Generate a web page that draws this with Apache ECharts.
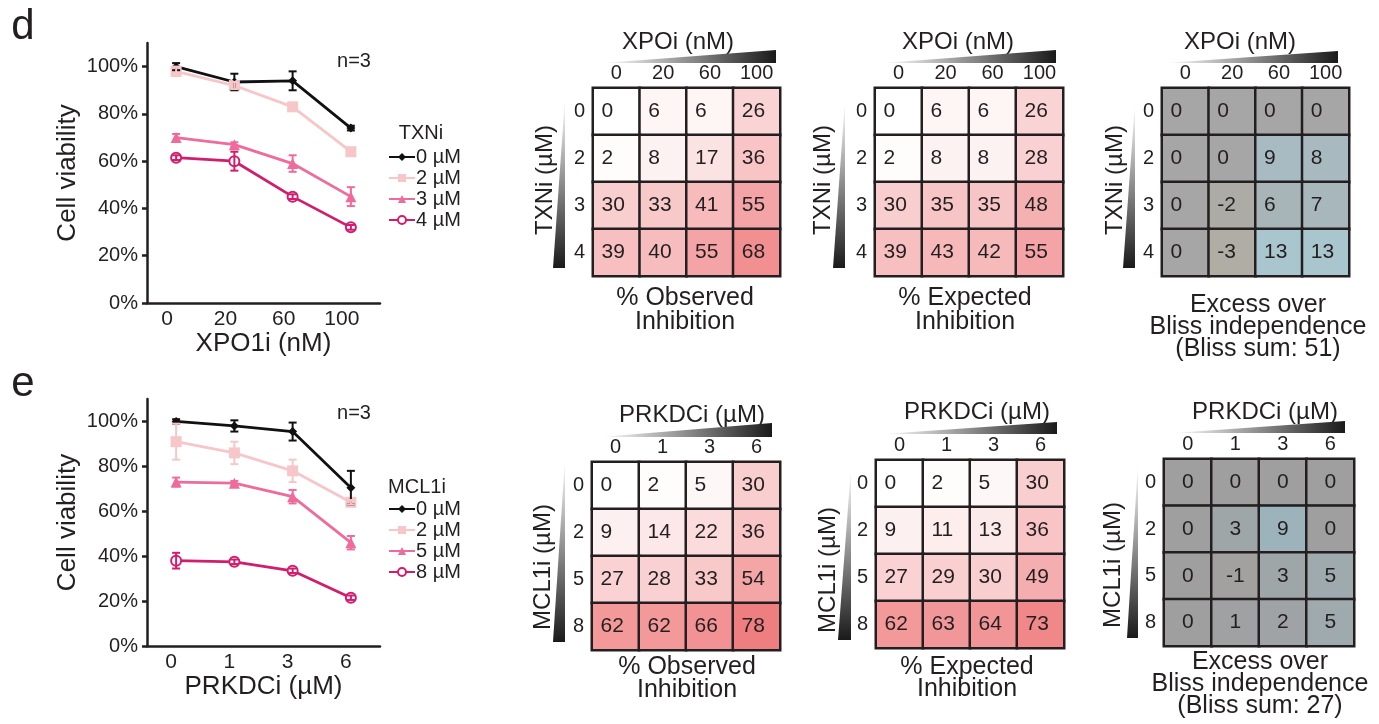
<!DOCTYPE html>
<html>
<head>
<meta charset="utf-8">
<script src="https://cdn.jsdelivr.net/npm/echarts@6/dist/echarts.min.js"></script>
<style>
  html, body { margin: 0; padding: 0; background: #fff; }
  #chart { width: 1379px; height: 724px; }
</style>
</head>
<body>
<div id="chart"></div>
<script>
// panel d: viability vs XPO1i dose, one line per TXNi dose
const xpoDoses = ['0', '20', '60', '100'];
const txnRows = ['0', '2', '3', '4'];
const txn0 = [100, 93.5, 94, 74];
const txn0Err = [1.5, 3.5, 4, 1];
const txn2 = [98, 92, 83, 64];
const txn2Err = [2, 1.5, 1, 1];
const txn3 = [70, 67, 59, 45];
const txn3Err = [1.5, 1, 3.5, 4];
const txn4 = [61.5, 60, 45, 32];
const txn4Err = [1, 4, 1, 1];

// panel e: viability vs PRKDCi dose, one line per MCL1i dose
const prkDoses = ['0', '1', '3', '6'];
const mclRows = ['0', '2', '5', '8'];
const mcl0 = [100, 98, 95.5, 70.5];
const mcl0Err = [1, 2.5, 4, 7.5];
const mcl2 = [91, 86, 78, 64];
const mcl2Err = [8, 5, 5, 1];
const mcl5 = [73, 72.5, 66.5, 46];
const mcl5Err = [2, 1, 3, 3];
const mcl8 = [38, 37.5, 33.5, 21.5];
const mcl8Err = [3.5, 1, 1, 1];

const yTicks = [0, 20, 40, 60, 80, 100];

// heatmaps (rows = TXNi / MCL1i dose, cols = XPOi / PRKDCi dose)
const obsD = [[0, 6, 6, 26], [2, 8, 17, 36], [30, 33, 41, 55], [39, 40, 55, 68]];
const expD = [[0, 6, 6, 26], [2, 8, 8, 28], [30, 35, 35, 48], [39, 43, 42, 55]];
const blissD = [[0, 0, 0, 0], [0, 0, 9, 8], [0, -2, 6, 7], [0, -3, 13, 13]];
const obsE = [[0, 2, 5, 30], [9, 14, 22, 36], [27, 28, 33, 54], [62, 62, 66, 78]];
const expE = [[0, 2, 5, 30], [9, 11, 13, 36], [27, 29, 30, 49], [62, 63, 64, 73]];
const blissE = [[0, 0, 0, 0], [0, 3, 9, 0], [0, -1, 3, 5], [0, 1, 2, 5]];

const FONT = "'Liberation Sans', Arial, sans-serif";
const INK = '#231f20';
const C_BLACK = '#111111';
const C_LIGHT = '#f7c6c9';
const C_PINK = '#ef6b9b';
const C_MAG = '#d31c6e';

let myChart = echarts.init(document.getElementById('chart'));

function lineSeries(name, data, color, symbol, size, axis) {
  return {
    name: name, type: 'line', xAxisIndex: axis, yAxisIndex: axis,
    data: data, symbol: symbol, symbolSize: size, z: 3,
    lineStyle: { color: color, width: 2.8 },
    itemStyle: { color: color, borderColor: color, borderWidth: symbol === 'emptyCircle' ? 2.5 : 0 },
  };
}

function errSeries(vals, errs, color, axis) {
  return {
    type: 'custom', xAxisIndex: axis, yAxisIndex: axis, z: 4, silent: true,
    data: vals.map((v, i) => [i, v - errs[i], v + errs[i]]),
    renderItem: function (params, api) {
      let lo = api.coord([api.value(0), api.value(1)]);
      let hi = api.coord([api.value(0), api.value(2)]);
      let w = 4;
      let st = { stroke: color, lineWidth: 2 };
      return {
        type: 'group',
        children: [
          { type: 'line', shape: { x1: lo[0], y1: lo[1], x2: hi[0], y2: hi[1] }, style: st },
          { type: 'line', shape: { x1: lo[0] - w, y1: lo[1], x2: lo[0] + w, y2: lo[1] }, style: st },
          { type: 'line', shape: { x1: hi[0] - w, y1: hi[1], x2: hi[0] + w, y2: hi[1] }, style: st },
        ],
      };
    },
  };
}

function heatSeries(matrix, axis, labelPos) {
  let data = [];
  matrix.forEach((row, r) => row.forEach((v, c) => data.push([c, r, v])));
  return {
    type: 'heatmap', xAxisIndex: axis, yAxisIndex: axis, data: data,
    itemStyle: { borderColor: INK, borderWidth: 2.5 },
    label: {
      show: true, position: labelPos, distance: 10,
      color: INK, fontSize: 21, fontFamily: FONT,
      formatter: (p) => String(p.value[2]),
    },
    emphasis: { disabled: true },
  };
}

// layout of the two line panels and the six heatmaps
const lineGrids = [
  { left: 147, top: 43, width: 233, height: 260 },
  { left: 147, top: 399, width: 233, height: 247 },
];
const heatGrids = [
  { left: 593, top: 88, width: 187, height: 188 },
  { left: 875, top: 88, width: 188, height: 188 },
  { left: 1162, top: 88, width: 187, height: 188 },
  { left: 592, top: 462, width: 188, height: 188 },
  { left: 876, top: 460, width: 188, height: 188 },
  { left: 1164, top: 459, width: 190, height: 187 },
];

let grid = lineGrids.concat(heatGrids).map((g) => Object.assign({ containLabel: false, outerBoundsMode: 'none' }, g));

let xAxis = [
  {
    type: 'category', gridIndex: 0, data: xpoDoses,
    name: 'XPO1i (nM)', nameLocation: 'middle', nameGap: 25,
    nameTextStyle: { fontSize: 26, color: INK, fontFamily: FONT },
    axisLine: { lineStyle: { color: INK, width: 2.5 } },
    axisTick: { inside: true, length: 5, lineStyle: { width: 2.5 } },
    axisLabel: { fontSize: 21, color: INK, fontFamily: FONT, margin: 6, padding: [0, 18, 0, 0] },
  },
  {
    type: 'category', gridIndex: 1, data: prkDoses,
    name: 'PRKDCi (µM)', nameLocation: 'middle', nameGap: 25,
    nameTextStyle: { fontSize: 26, color: INK, fontFamily: FONT },
    axisLine: { lineStyle: { color: INK, width: 2.5 } },
    axisTick: { inside: true, length: 5, lineStyle: { width: 2.5 } },
    axisLabel: { fontSize: 21, color: INK, fontFamily: FONT, margin: 6, padding: [0, 10, 0, 0] },
  },
];
let yAxis = [0, 1].map((i) => ({
  type: 'value', gridIndex: i, min: 0, max: 110, interval: 20,
  name: 'Cell viability', nameLocation: 'middle', nameGap: 66,
  nameTextStyle: { fontSize: 26, color: INK, fontFamily: FONT },
  splitLine: { show: false },
  axisLine: { show: true, lineStyle: { color: INK, width: 2.5 } },
  axisTick: { show: true, length: 5, lineStyle: { width: 2.5 } },
  axisLabel: {
    fontSize: 20, color: INK, fontFamily: FONT, margin: 9, showMaxLabel: false,
    formatter: (v) => (yTicks.indexOf(v) >= 0 ? v + '%' : ''),
  },
}));

heatGrids.forEach((g, k) => {
  let cols = k < 3 ? xpoDoses : prkDoses;
  let rows = k < 3 ? txnRows : mclRows;
  xAxis.push({
    type: 'category', gridIndex: k + 2, data: cols, position: 'top',
    axisLine: { show: false }, axisTick: { show: false },
    axisLabel: { fontSize: 20, color: INK, fontFamily: FONT, margin: 5 },
  });
  yAxis.push({
    type: 'category', gridIndex: k + 2, data: rows, inverse: true,
    axisLine: { show: false }, axisTick: { show: false },
    axisLabel: { fontSize: 20, color: INK, fontFamily: FONT, margin: 8 },
  });
});

let series = [
  lineSeries('0 µM', txn0, C_BLACK, 'diamond', 9, 0),
  lineSeries('2 µM', txn2, C_LIGHT, 'rect', 11, 0),
  lineSeries('3 µM', txn3, C_PINK, 'triangle', 11, 0),
  lineSeries('4 µM', txn4, C_MAG, 'emptyCircle', 10, 0),
  errSeries(txn0, txn0Err, C_BLACK, 0),
  errSeries(txn2, txn2Err, C_LIGHT, 0),
  errSeries(txn3, txn3Err, C_PINK, 0),
  errSeries(txn4, txn4Err, C_MAG, 0),
  lineSeries('0 µM', mcl0, C_BLACK, 'diamond', 9, 1),
  lineSeries('2 µM', mcl2, C_LIGHT, 'rect', 11, 1),
  lineSeries('5 µM', mcl5, C_PINK, 'triangle', 11, 1),
  lineSeries('8 µM', mcl8, C_MAG, 'emptyCircle', 10, 1),
  errSeries(mcl0, mcl0Err, C_BLACK, 1),
  errSeries(mcl2, mcl2Err, C_LIGHT, 1),
  errSeries(mcl5, mcl5Err, C_PINK, 1),
  errSeries(mcl8, mcl8Err, C_MAG, 1),
];
let h0 = series.length;
series.push(
  heatSeries(obsD, 2, 'insideLeft'),
  heatSeries(expD, 3, 'insideLeft'),
  heatSeries(blissD, 4, 'insideLeft'),
  heatSeries(obsE, 5, 'insideLeft'),
  heatSeries(expE, 6, 'insideLeft'),
  heatSeries(blissE, 7, 'inside')
);

// decorations: panel letters, heatmap titles and dose wedges
let graphic = [];
function txt(x, y, text, size, opts) {
  graphic.push(Object.assign({
    type: 'text', x: x, y: y,
    style: Object.assign({ text: text, fill: INK, font: size + 'px ' + FONT, align: 'center', verticalAlign: 'middle' }, (opts && opts.style) || {}),
  }, (opts && opts.el) || {}));
}
function wedgeH(x0, x1, yTop, yBot) {
  graphic.push({
    type: 'polygon', shape: { points: [[x0, yBot], [x1, yTop], [x1, yBot]] },
    style: { fill: new echarts.graphic.LinearGradient(0, 0, 1, 0, [{ offset: 0, color: '#ffffff' }, { offset: 1, color: '#1a1a1a' }]) },
  });
}
function wedgeV(xL, xR, y0, y1) {
  graphic.push({
    type: 'polygon', shape: { points: [[xR, y0], [xR, y1], [xL, y1]] },
    style: { fill: new echarts.graphic.LinearGradient(0, 0, 0, 1, [{ offset: 0, color: '#ffffff' }, { offset: 1, color: '#1a1a1a' }]) },
  });
}

txt(23, 27, 'd', 42);
txt(23, 384, 'e', 42);
txt(354, 61, 'n=3', 20);
txt(354, 413, 'n=3', 20);
txt(421, 133, 'TXNi', 20);
txt(417, 487, 'MCL1i', 20);

// panel d heatmaps
txt(678, 42, 'XPOi (nM)', 24);
txt(958, 42, 'XPOi (nM)', 24);
txt(1240, 42, 'XPOi (nM)', 24);
wedgeH(603, 776, 50, 63);
wedgeH(883, 1056, 50, 63);
wedgeH(1165, 1338, 51, 63);
wedgeV(553, 565, 98, 268);
wedgeV(833, 845, 100, 268);
wedgeV(1123, 1135, 103, 268);
txt(545, 180, 'TXNi (µM)', 24, { el: { rotation: Math.PI / 2 } });
txt(823, 180, 'TXNi (µM)', 24, { el: { rotation: Math.PI / 2 } });
txt(1115, 180, 'TXNi (µM)', 24, { el: { rotation: Math.PI / 2 } });
txt(685, 310, '% Observed\nInhibition', 25, { style: { lineHeight: 24 } });
txt(965, 310, '% Expected\nInhibition', 25, { style: { lineHeight: 24 } });
txt(1258, 327, 'Excess over\nBliss independence\n(Bliss sum: 51)', 25, { style: { lineHeight: 22 } });

// panel e heatmaps
txt(692, 415, 'PRKDCi (µM)', 24);
txt(977, 412, 'PRKDCi (µM)', 24);
txt(1265, 412, 'PRKDCi (µM)', 24);
wedgeH(600, 772, 423, 437);
wedgeH(883, 1057, 422, 434);
wedgeH(1173, 1345, 421, 433);
wedgeV(553, 565, 458, 642);
wedgeV(838, 851, 468, 640);
wedgeV(1127, 1138, 463, 638);
txt(543, 567, 'MCL1i (µM)', 24, { el: { rotation: Math.PI / 2 } });
txt(828, 570, 'MCL1i (µM)', 24, { el: { rotation: Math.PI / 2 } });
txt(1113, 565, 'MCL1i (µM)', 24, { el: { rotation: Math.PI / 2 } });
txt(687, 679, '% Observed\nInhibition', 25, { style: { lineHeight: 23 } });
txt(967, 678, '% Expected\nInhibition', 25, { style: { lineHeight: 22 } });
txt(1260, 684, 'Excess over\nBliss independence\n(Bliss sum: 27)', 25, { style: { lineHeight: 22 } });

let legendBase = {
  orient: 'vertical', left: 383, itemWidth: 26, itemHeight: 10, itemGap: 1,
  selectedMode: false,
  textStyle: { fontSize: 20, color: INK, fontFamily: FONT, padding: [0, 0, 0, -4] },
};

let options = {
  animation: false,
  backgroundColor: '#ffffff',
  textStyle: { fontFamily: FONT },
  grid: grid,
  xAxis: xAxis,
  yAxis: yAxis,
  legend: [
    Object.assign({ top: 142, data: ['0 µM', '2 µM', '3 µM', '4 µM'] }, legendBase),
    Object.assign({ top: 494, data: ['0 µM', '2 µM', '5 µM', '8 µM'] }, legendBase),
  ],
  visualMap: [
    { show: false, seriesIndex: [h0, h0 + 1, h0 + 3, h0 + 4], dimension: 2, min: 0, max: 80,
      inRange: { color: ['#ffffff', '#ef7b7d'] } },
    { show: false, seriesIndex: [h0 + 2], dimension: 2, min: -13, max: 13,
      inRange: { color: ['#d1c4a2', '#a6a6a6', '#a9c5ce'] } },
    { show: false, seriesIndex: [h0 + 5], dimension: 2, min: -13, max: 13,
      inRange: { color: ['#c8bc9c', '#9f9f9f', '#9cbcc7'] } },
  ],
  graphic: graphic,
  series: series,
};
myChart.setOption(options);
</script>
</body>
</html>
